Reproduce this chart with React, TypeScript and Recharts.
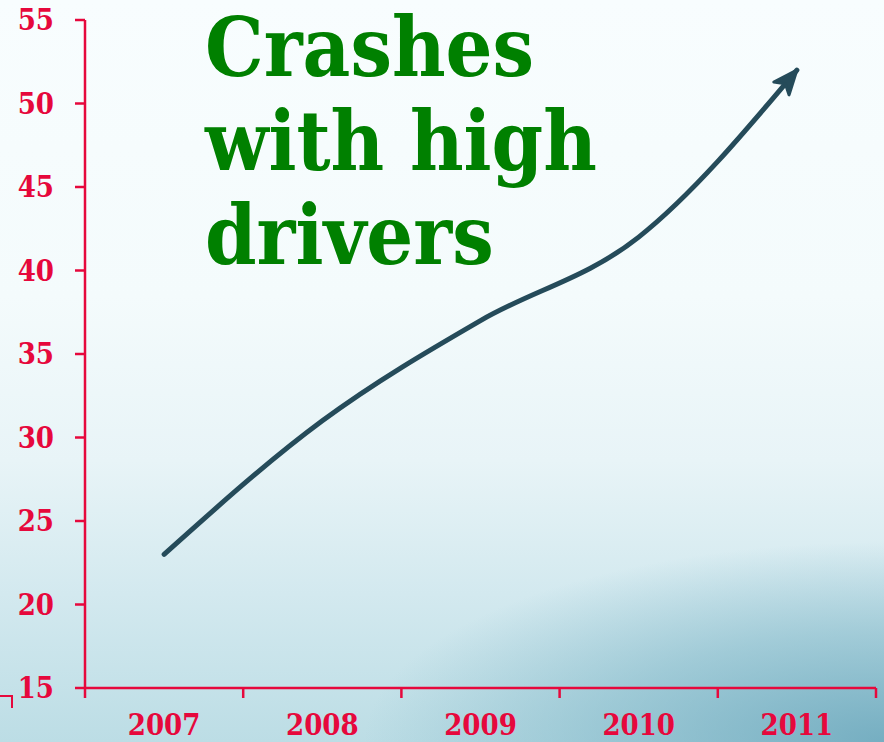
import { LineChart, Line, XAxis, YAxis } from 'recharts';

const years = ['2007', '2008', '2009', '2010', '2011'];
const crashes = [23, 31, 37, 42, 52];
const yTicks = [15, 20, 25, 30, 35, 40, 45, 50, 55];
const titleLines = ['Crashes', 'with high', 'drivers'];

const RED = '#e6083c';
const LINE = '#254b5a';
const GREEN = '#008000';
const SERIF = "'DejaVu Serif Condensed', 'DejaVu Serif', serif";

const data = years.map((year, i) => ({ pos: i + 0.5, year, value: crashes[i] }));
const xTicks = years.flatMap((_, i) => [i, i + 0.5]).concat(years.length);

function YearTick(props: any) {
  const { x, y, payload } = props;
  const v = payload.value as number;
  if (Number.isInteger(v)) {
    return <line x1={x} y1={y} x2={x} y2={y + 10} stroke={RED} strokeWidth={2.5} />;
  }
  return (
    <text x={x} y={y + 47} textAnchor="middle" fill={RED} fontFamily={SERIF} fontWeight="bold" fontSize={29}>
      {years[Math.floor(v)]}
    </text>
  );
}

export default function App() {
  return (
    <div
      style={{
        position: 'absolute',
        left: 0,
        top: 0,
        width: 884,
        height: 742,
        overflow: 'hidden',
        background:
          'linear-gradient(180deg, #f8fdfe 0%, #f4fbfc 40%, #e8f4f7 62%, #d3e9ef 80%, #bcdde5 100%)',
      }}
    >
      {/* darker teal sweep bottom right */}
      <div
        style={{
          position: 'absolute',
          left: 0,
          top: 0,
          width: 884,
          height: 742,
          background:
            'radial-gradient(ellipse 520px 200px at 100% 100%, rgba(105,166,187,0.85) 0%, rgba(120,178,196,0.5) 55%, rgba(120,178,196,0) 100%)',
        }}
      />
      <svg width={0} height={0} style={{ position: 'absolute' }}>
        <defs>
          <marker
            id="arrowHead"
            markerUnits="userSpaceOnUse"
            markerWidth={30}
            markerHeight={26}
            viewBox="0 0 30 26"
            refX={27}
            refY={13}
            orient="auto"
          >
            <path d="M3,3 L27,13 L3,23 L9,13 Z" fill={LINE} stroke={LINE} strokeWidth={3} strokeLinejoin="round" />
          </marker>
        </defs>
      </svg>
      <div
        style={{
          position: 'absolute',
          left: 0,
          top: 695,
          width: 11,
          height: 11,
          borderTop: `2px solid ${RED}`,
          borderRight: `2px solid ${RED}`,
        }}
      />
      <div style={{ position: 'absolute', left: 0, top: 0 }}>
        <LineChart width={884} height={742} data={data} margin={{ top: 20, right: 8, bottom: 0, left: 0 }}>
          <XAxis
            dataKey="pos"
            type="number"
            domain={[0, years.length]}
            ticks={xTicks}
            interval={0}
            height={54}
            axisLine={{ stroke: RED, strokeWidth: 2.5 }}
            tickLine={false}
            tickSize={0}
            tickMargin={0}
            tick={<YearTick />}
          />
          <YAxis
            type="number"
            domain={[15, 55]}
            ticks={yTicks}
            interval={0}
            width={85}
            axisLine={{ stroke: RED, strokeWidth: 2.5 }}
            tickLine={{ stroke: RED, strokeWidth: 2.5 }}
            tickSize={10}
            tickMargin={21}
            tick={{ fill: RED, fontFamily: SERIF, fontWeight: 'bold', fontSize: 29 }}
          />
          <Line
            type="monotone"
            dataKey="value"
            stroke={LINE}
            strokeWidth={5}
            strokeLinecap="round"
            dot={false}
            activeDot={false}
            markerEnd="url(#arrowHead)"
            isAnimationActive={false}
          />
        </LineChart>
      </div>
      <div
        style={{
          position: 'absolute',
          left: 205,
          top: 0,
          color: GREEN,
          fontFamily: SERIF,
          fontWeight: 'bold',
          fontSize: 82,
          lineHeight: '94px',
        }}
      >
        {titleLines.map(t => (
          <div key={t}>{t}</div>
        ))}
      </div>
    </div>
  );
}
